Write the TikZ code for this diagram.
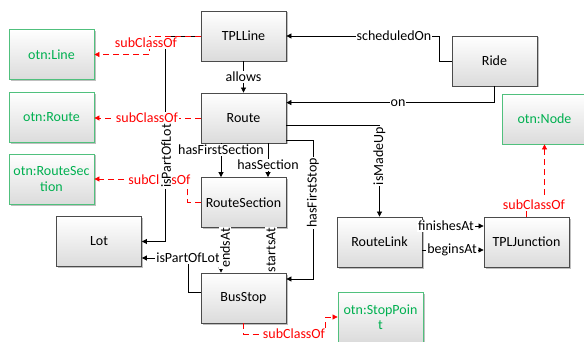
\documentclass[tikz,border=0pt]{standalone}
\usepackage{fontspec}
\setmainfont{Carlito}
\usetikzlibrary{arrows.meta,shadows,calc}
\definecolor{otngreen}{RGB}{0,176,80}
\definecolor{otnedge}{RGB}{80,192,125}
\definecolor{boxedge}{RGB}{75,75,75}

\begin{document}
\begin{tikzpicture}[x=1pt,y=-1pt,
  font=\fontsize{14}{15.5}\selectfont,
  classbox/.style={draw=boxedge,line width=0.8pt,top color=white,bottom color=black!14,
    minimum width=85pt,minimum height=50pt,inner sep=2pt,
    drop shadow={shadow xshift=1.5pt,shadow yshift=-1.5pt,opacity=0.25,fill=black}},
  otnbox/.style={classbox,draw=otnedge,text=otngreen,align=center,text width=80pt},
  rel/.style={draw=black,line width=0.7pt,-{Triangle[length=5pt,width=5pt]}},
  sub/.style={draw=red,line width=0.7pt,dash pattern=on 6pt off 4pt,-{Triangle[length=5pt,width=5pt]}},
  lbl/.style={fill=white,inner sep=1pt},
  sublbl/.style={lbl,text=red},
]
\useasboundingbox (0,0) rectangle (584,342);
\clip (0,0) rectangle (584,342);

% classes
\node[classbox] (tplline)  at (243.5,36)  {TPLLine};
\node[classbox] (route)    at (243.5,118) {Route};
\node[classbox] (rsec)     at (243.5,202.5) {RouteSection};
\node[classbox] (busstop)  at (243.5,298) {BusStop};
\node[classbox] (lot)      at (99,241.5)  {Lot};
\node[classbox] (ride)     at (494.5,61)  {Ride};
\node[classbox] (rlink)    at (379.5,242) {RouteLink};
\node[classbox] (junction) at (526.5,242) {TPLJunction};

% external ontology classes
\node[otnbox] (oline)  at (51.5,54.5) {otn:Line};
\node[otnbox] (oroute) at (51.5,117.5) {otn:Route};
\node[otnbox] (osec)   at (51.5,179)  {otn:RouteSec\\tion};
\node[otnbox] (onode)  at (544.5,119) {otn:Node};
\node[otnbox] (ostop)  at (380.5,317) {otn:StopPoin\\t};

% object properties
\draw[rel] (ride.west) -- ++(-12,0) |- (tplline.east);
\draw[rel] (ride.south) |- ($(route.north east)+(0,10)$);
\draw[rel] (tplline) -- (route);
\draw[rel] ($(route.east)+(0,7)$) -| (rlink.north);
\draw[rel] ($(route.south)+(-22.5,0)$) -- ($(rsec.north)+(-22.5,0)$);
\draw[rel] ($(route.south)+(24.5,0)$) -- ($(rsec.north)+(24.5,0)$);
\draw[rel] ($(route.east)+(0,22)$) -- ++(27,0) |- ($(busstop.east)+(0,-19)$);
\draw[rel] ($(rsec.south)+(-22.5,0)$) -- ($(busstop.north)+(-22.5,0)$);
\draw[rel] ($(rsec.south)+(24.5,0)$) -- ($(busstop.north)+(24.5,0)$);
\draw[rel] (tplline.west) -- ++(-35,0) |- (lot.east);
\draw[rel] ($(busstop.west)+(0,-6)$) -- ++(-12,0) |- ($(lot.east)+(0,16.5)$);
\draw[rel] ($(rlink.east)+(0,-16)$) -- ($(junction.west)+(0,-16)$);
\draw[rel] ($(rlink.east)+(0,8)$) -- ($(junction.west)+(0,8)$);

% subclass links
\draw[sub] (tplline.west) -- ++(-51,0) |- (oline.east);
\draw[sub] (route.west) -- (route.west -| oroute.east);
\draw[sub] (rsec.west) -- ++(-13,0) |- (osec.east);
\draw[sub] (busstop.south) -- ++(0,11) -| ($(ostop.west)+(-12,0)$) -- (ostop.west);
\draw[sub] (junction.north) -- ++(0,-12) -| (onode.south);

% subclass labels
\node[sublbl] (s-line)  at (146,43)    {subClassOf};
\node[sublbl] (s-route) at (147,117.5) {subClassOf};
\node[sublbl] (s-sec)   at (159.5,180) {subClassOf};
\node[sublbl] (s-stop)  at (294,333.5) {subClassOf};
\node[sublbl] (s-node)  at (534,205)   {subClassOf};

% property labels
\node[lbl] (l-sched) at (394,36)    {scheduledOn};
\node[lbl] (l-on)    at (398,103)   {on};
\node[lbl] (l-allow) at (243.5,77)  {allows};
\node[lbl,rotate=90] (l-made) at (379.5,156) {isMadeUp};
\node[lbl] (l-first) at (221,150)   {hasFirstSection};
\node[lbl] (l-has)   at (268,165)   {hasSection};
\node[lbl,rotate=90] (l-fstop) at (313,193) {hasFirstStop};
\node[lbl,rotate=90] (l-lot1)  at (166,156) {isPartOfLot};
\node[lbl] (l-lot2)  at (188,258)   {isPartOfLot};
\node[lbl,rotate=90] (l-ends)  at (225,248) {endsAt};
\node[lbl,rotate=90] (l-starts) at (271,250) {startsAt};
\node[lbl] (l-fin)   at (446,226)   {finishesAt};
\node[lbl] (l-beg)   at (452,250)   {beginsAt};
\end{tikzpicture}
\end{document}
